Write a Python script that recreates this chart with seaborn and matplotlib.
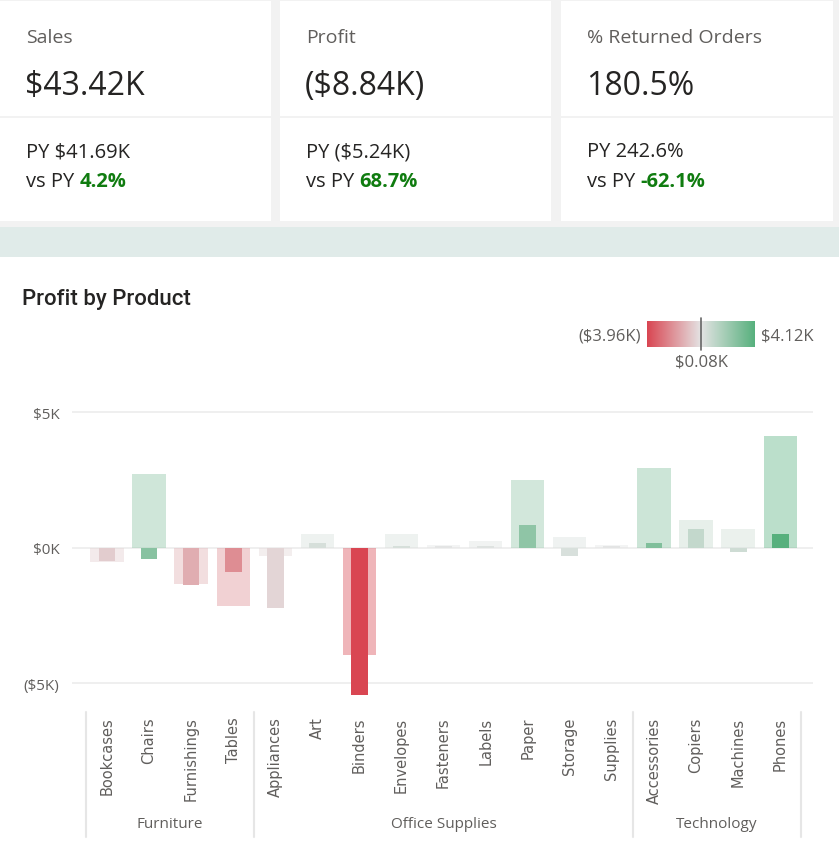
import matplotlib
matplotlib.use("Agg")
import matplotlib.pyplot as plt
import matplotlib.colors as mcolors
import matplotlib.transforms as mtransforms
from matplotlib.patches import Rectangle
import pandas as pd
import seaborn as sns

# KPI cards
kpi_titles = ["Sales", "Profit", "% Returned Orders"]
kpi_values = ["$43.42K", "($8.84K)", "180.5%"]
kpi_py = ["PY $41.69K", "PY ($5.24K)", "PY 242.6%"]
kpi_delta = ["4.2%", "68.7%", "-62.1%"]

# Profit by product (in $K)
categories = ["Furniture"] * 4 + ["Office Supplies"] * 9 + ["Technology"] * 4
products = ["Bookcases", "Chairs", "Furnishings", "Tables",
            "Appliances", "Art", "Binders", "Envelopes", "Fasteners", "Labels",
            "Paper", "Storage", "Supplies",
            "Accessories", "Copiers", "Machines", "Phones"]
profit_ref = [-0.52, 2.71, -1.32, -2.16,
              -0.31, 0.49, -3.96, 0.49, 0.10, 0.25, 2.48, 0.41, 0.10,
              2.95, 1.01, 0.68, 4.12]
profit = [-0.48, -0.42, -1.39, -0.91,
          -2.22, 0.16, -5.44, 0.07, 0.05, 0.05, 0.85, -0.31, 0.05,
          0.16, 0.68, -0.15, 0.52]
scale_min, scale_mid, scale_max = -3.96, 0.08, 4.12

df = pd.DataFrame({"category": categories, "product": products,
                   "profit_ref": profit_ref, "profit": profit})

sns.set_style("white")
plt.rcParams["font.family"] = ["Open Sans", "DejaVu Sans"]

W, H = 839, 853
fig = plt.figure(figsize=(W / 100, H / 100), dpi=100)
fig.patch.set_facecolor("white")

# full-figure layer for the header, in pixel coordinates from the top-left
bg = fig.add_axes([0, 0, 1, 1], zorder=-1)
bg.set_xlim(0, W)
bg.set_ylim(H, 0)
bg.set_axis_off()


def box(x0, y0, x1, y1, color):
    bg.add_patch(Rectangle((x0, y0), x1 - x0, y1 - y0, color=color, lw=0))


box(0, 0, W, 228, "#f2f2f2")
box(0, 228, W, 258, "#e0ebe9")
card_x = [(0, 271), (280, 551), (561, 833)]
for i, (x0, x1) in enumerate(card_x):
    box(x0, 2, x1, 222, "white")
    box(x0, 117, x1, 119, "#f2f2f2")
    tx = x0 + 26
    bg.text(tx, 38, kpi_titles[i], fontsize=14, color="#605e5c", va="center")
    bg.text(tx - 1, 86, kpi_values[i], fontsize=23, color="#252423", va="center",
            fontweight="medium")
    bg.text(tx, 152, kpi_py[i], fontsize=14.5, color="#252423", va="center")
    t = bg.text(tx, 182, "vs PY ", fontsize=14.5, color="#252423", va="center")
    bg.annotate(kpi_delta[i], xy=(1, 0), xycoords=t, va="bottom", ha="left",
                fontsize=14.5, color="#107c10", fontweight="bold")

bg.text(22, 299, "Profit by Product", fontsize=16, color="#252423",
        va="center", family=["Roboto", "DejaVu Sans"], fontweight="medium")

# colour scale
cmap = mcolors.LinearSegmentedColormap.from_list("profit", ["#d94652", "#e4e4e4", "#57b07d"])
norm = mcolors.TwoSlopeNorm(vmin=scale_min, vcenter=scale_mid, vmax=scale_max)
pal = {p: cmap(norm(v)) for p, v in zip(df["product"], df["profit_ref"])}

# main chart
ax = fig.add_axes([72 / W, 1 - 705 / H, (813 - 72) / W, 305 / H])
sns.barplot(data=df, x="product", y="profit_ref", hue="product", palette=pal,
            width=0.79, alpha=0.4, linewidth=0, saturation=1, legend=False,
            ax=ax, zorder=2)
sns.barplot(data=df, x="product", y="profit", hue="product", palette=pal,
            width=0.40, linewidth=0, saturation=1, legend=False, ax=ax, zorder=3)
ax.set_xlim(-0.83, 16.78)
ax.set_ylim(-5.76, 5.48)
ax.set_yticks([-5, 0, 5])
ax.yaxis.set_major_formatter(plt.FuncFormatter(
    lambda v, _: f"${v:.0f}K" if v >= 0 else f"(${-v:.0f}K)"))
ax.grid(axis="y", color="#eeeeee", lw=1.3, zorder=0)
ax.set_axisbelow(True)
sns.despine(ax=ax, left=True, bottom=True)
ax.set_xlabel("")
ax.set_ylabel("")
ax.tick_params(axis="y", length=0, pad=9, labelsize=11, labelcolor="#605e5c")
ax.tick_params(axis="x", length=0, pad=9, labelsize=10.5, labelcolor="#605e5c",
               labelrotation=90)
for lbl in ax.get_xticklabels():
    lbl.set_va("top")
    lbl.set_family("DejaVu Sans")

# category groups below the axis
trans = mtransforms.blended_transform_factory(ax.transData, ax.transAxes)
groups = df.reset_index().groupby("category", sort=False)["index"].agg(["min", "max"])
edges = [groups["min"].iloc[0] - 0.5] + list(groups["max"] + 0.5)
for e in edges:
    ax.plot([e, e], [-0.025, -0.436], transform=trans, clip_on=False,
            color="#e6e6e6", lw=1.5)
for name, row in groups.iterrows():
    ax.text((row["min"] + row["max"]) / 2, -0.393, name, transform=trans,
            ha="center", va="center", fontsize=11, color="#605e5c")

# gradient legend
lax = fig.add_axes([647 / W, 1 - 348 / H, 108 / W, 26 / H])
grad = [[scale_min + (scale_max - scale_min) * i / 255 for i in range(256)]]
lax.imshow(grad, cmap=cmap, norm=norm, aspect="auto",
           extent=[scale_min, scale_max, 0, 1])
lax.axvline(scale_mid, ymin=-0.12, ymax=1.12, color="#666666", lw=1.2, clip_on=False)
lax.set_axis_off()
bg.text(641, 336, "($3.96K)", ha="right", va="center", fontsize=12, color="#605e5c")
bg.text(761, 336, "$4.12K", ha="left", va="center", fontsize=12, color="#605e5c")
bg.text(701, 362, "$0.08K", ha="center", va="center", fontsize=12, color="#605e5c")

fig.savefig("out.png", dpi=100)
